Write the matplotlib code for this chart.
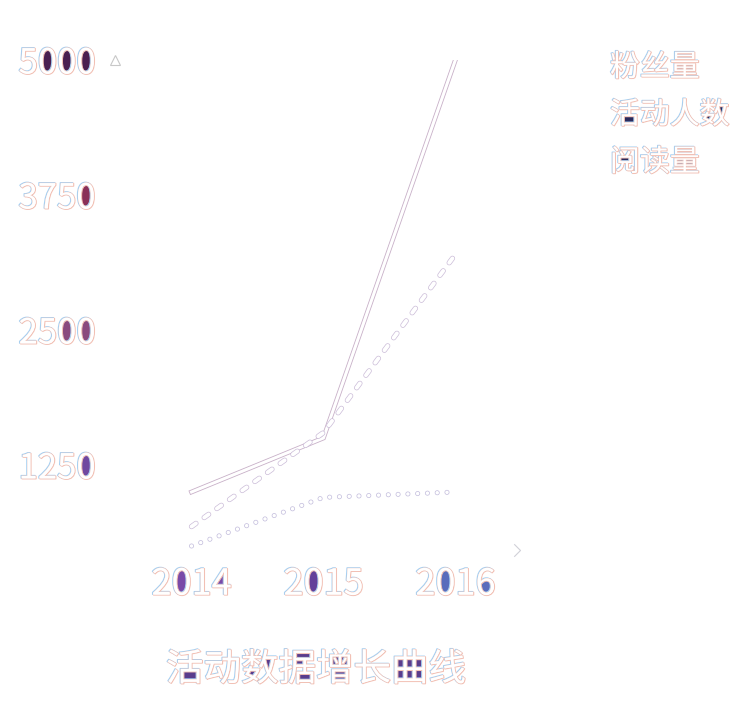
import numpy as np
import matplotlib
matplotlib.use("Agg")
import matplotlib.pyplot as plt
import matplotlib.colors as mcolors
from matplotlib.path import Path
from matplotlib.lines import Line2D
from matplotlib.patheffects import AbstractPathEffect, Stroke, Normal

plt.rcParams['font.family'] = ['Noto Sans CJK SC', 'DejaVu Sans']
plt.rcParams['font.weight'] = 'light'

# data
years = [2014, 2015, 2016]
fans = [1000, 1500, 5000]          # 粉丝量
active = [680, 1550, 3200]         # 活动人数
reads = [500, 950, 1000]           # 阅读量
series_names = ['粉丝量', '活动人数', '阅读量']
yticks = [1250, 2500, 3750, 5000]
ytick_fill = ['#7048a0', '#8a4a7e', '#8a3058', '#4a1f50']
xtick_fill = ['#7a4aa8', '#64409a', '#5a6cbc']
title = '活动数据增长曲线'


class FillCounters(AbstractPathEffect):
    """paint every closed contour of a glyph, so the counters stay coloured
    once the white glyph is drawn over it"""

    def __init__(self, color):
        super().__init__()
        self.rgb = mcolors.to_rgb(color)

    def draw_path(self, renderer, gc, tpath, affine, rgbFace=None):
        gc0 = renderer.new_gc()
        gc0.copy_properties(gc)
        gc0.set_linewidth(0)
        for poly in tpath.to_polygons(closed_only=True):
            if len(poly) < 3:
                continue
            renderer.draw_path(gc0, Path(poly, closed=True), affine, self.rgb)
        gc0.restore()


def outlined(fill):
    return [FillCounters(fill),
            Stroke(linewidth=0.9, foreground='#a6d0f2', offset=(-0.35, 0.25)),
            Stroke(linewidth=0.9, foreground='#f2c0b4', offset=(0.35, -0.25)),
            Normal()]


fig = plt.figure(figsize=(7.36, 7.09), dpi=100)
ax = fig.add_axes([0.15625, 0.22426, 0.5503, 0.6911])

line_styles = [
    dict(ls='-', lw=2.2, edge='#c8b0c8', width=3.4),
    dict(ls=(0, (1.4, 2.6)), lw=2.8, edge='#cbbcd8', width=3.8),
    dict(ls=(0, (0.01, 2.7)), lw=2.6, edge='#c2bcdc', width=3.6),
]
for values, st in zip([fans, active, reads], line_styles):
    ax.plot(years, values, color='white', lw=st['lw'], ls=st['ls'],
            dash_capstyle='round', solid_joinstyle='miter',
            path_effects=[Stroke(linewidth=st['width'], foreground=st['edge']), Normal()])

ax.set_xlim(2014 - 0.58, 2016 + 0.49)
ax.set_ylim(463, 5000)
for s in ax.spines.values():
    s.set_visible(False)

ax.set_yticks(yticks, [str(v) for v in yticks])
ax.set_xticks(years, [str(y) for y in years])
ax.tick_params(axis='y', length=0, pad=14, labelsize=25, labelcolor='white')
ax.tick_params(axis='x', length=0, pad=12, labelsize=26, labelcolor='white')
for lab, c in zip(ax.get_yticklabels(), ytick_fill):
    lab.set_path_effects(outlined(c))
for lab, c in zip(ax.get_xticklabels(), xtick_fill):
    lab.set_path_effects(outlined(c))

# faint axis arrow heads
ax.plot(0, 1, marker='^', ms=7, mfc='white', mec='#c8c8c8', mew=0.8,
        transform=ax.transAxes, clip_on=False)
ax.plot(1, 0, marker=[(-1, 1), (0, 0), (-1, -1)], ms=9, mfc='none', mec='#d0d0d8',
        mew=0.8, transform=ax.transAxes, clip_on=False)

handles = [Line2D([], [], alpha=0) for _ in series_names]
leg = ax.legend(handles, series_names, loc='upper left', frameon=False,
                bbox_to_anchor=(610 / 736, 1 - 52 / 709), bbox_transform=fig.transFigure,
                handlelength=0, handletextpad=0, borderpad=0, borderaxespad=0,
                labelspacing=0.55, prop={'size': 21.5}, labelcolor='white')
for t in leg.get_texts():
    t.set_path_effects(outlined('#2a2a5c'))

fig.text(316 / 736, 1 - 670 / 709, title, ha='center', va='center', fontsize=27,
         color='white', path_effects=outlined('#5a3c8c'))

fig.savefig('out.png', dpi=100)
